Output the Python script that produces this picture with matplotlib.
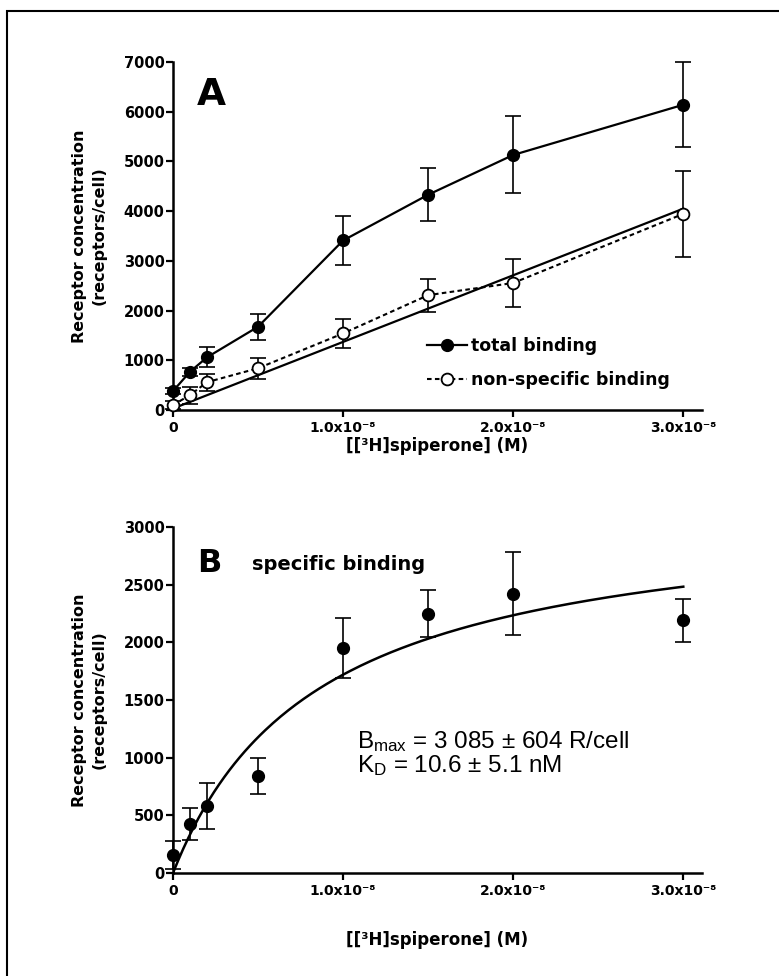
import matplotlib
matplotlib.use('Agg')
import matplotlib.pyplot as plt
import numpy as np
from matplotlib.patches import Rectangle

plt.rcParams['font.family'] = ['DejaVu Sans']
plt.rcParams['font.weight'] = 'bold'
plt.rcParams['mathtext.fontset'] = 'custom'
plt.rcParams['mathtext.rm'] = 'Liberation Sans:weight=normal'
plt.rcParams['mathtext.it'] = 'Liberation Sans:weight=normal'

# spiperone concentration (M)
conc = [0, 1e-9, 2e-9, 5e-9, 1e-8, 1.5e-8, 2e-8, 3e-8]

# panel A
total = [380, 770, 1060, 1675, 3410, 4330, 5130, 6140]
total_err = [60, 80, 200, 260, 495, 530, 775, 855]
nonspec = [100, 300, 560, 840, 1540, 2310, 2555, 3945]
nonspec_err = [80, 170, 170, 215, 300, 330, 480, 865]
nonspec_fit = [30, 1.34e11]  # intercept, slope

# panel B
specific = [155, 427, 580, 840, 1950, 2250, 2420, 2190]
specific_err = [120, 140, 200, 155, 262, 205, 360, 188]
fit_bmax = 3190
fit_kd = 8.55e-9

xticks = [0, 1e-8, 2e-8, 3e-8]
xticklabels = ['0', '1.0x10⁻⁸', '2.0x10⁻⁸', '3.0x10⁻⁸']
ylabel = 'Receptor concentration\n(receptors/cell)'
xlabel = '[[³H]spiperone] (M)'

W, H = 779, 976
fig = plt.figure(figsize=(W / 100, H / 100), dpi=100)

def box(l, r, t, b):
    return [l / W, 1 - b / H, (r - l) / W, (b - t) / H]

axA = fig.add_axes(box(173, 702, 62, 410))
axB = fig.add_axes(box(173, 702, 527, 873))

for ax, xpad in ((axA, 1.5), (axB, 24)):
    for s in ('top', 'right'):
        ax.spines[s].set_visible(False)
    for s in ('left', 'bottom'):
        ax.spines[s].set_linewidth(1.8)
    ax.tick_params(direction='out', width=1.6, length=5, pad=3)
    ax.tick_params(axis='y', labelsize=10.5, pad=1)
    ax.tick_params(axis='x', labelsize=10)
    ax.set_xlim(0, 3.11e-8)
    ax.set_xticks(xticks)
    ax.set_xticklabels(xticklabels)
    ax.set_xlabel(xlabel, fontsize=12, fontweight='bold', labelpad=xpad)
    ax.set_ylabel(ylabel, fontsize=11.5, fontweight='bold',
                  linespacing=1.4, labelpad=12)
    ax.patch.set_visible(False)

# ---- A ----
axA.set_ylim(0, 7000)
axA.set_yticks(range(0, 7001, 1000))
axA.plot([0, 3e-8], [nonspec_fit[0], nonspec_fit[0] + nonspec_fit[1] * 3e-8],
         color='black', lw=1.6, zorder=2)
axA.errorbar(conc, total, yerr=total_err, fmt='none', ecolor='black',
             elinewidth=1.2, capsize=6, capthick=1.2, zorder=2, clip_on=False)
axA.errorbar(conc, nonspec, yerr=nonspec_err, fmt='none', ecolor='black',
             elinewidth=1.2, capsize=6, capthick=1.2, zorder=2, clip_on=False)
axA.plot(conc, total, '-o', color='black', lw=1.6, ms=8.5,
         label='total binding', zorder=4, clip_on=False)
axA.plot(conc, nonspec, linestyle=(0, (2.2, 1.6)), marker='o', color='black',
         mfc='white', mec='black', mew=1.3, lw=1.5, ms=8.5,
         label='non-specific binding', zorder=4, clip_on=False)
axA.legend(loc='upper left', bbox_to_anchor=(0.48, 0.21), frameon=False,
           fontsize=12.5, handlelength=2.3, handletextpad=0.25,
           labelspacing=0.95, borderpad=0, borderaxespad=0, numpoints=1)
axA.text(0.045, 0.876, 'A', transform=axA.transAxes, fontsize=27,
         fontweight='bold', va='baseline')

# ---- B ----
axB.set_ylim(0, 3000)
axB.set_yticks(range(0, 3001, 500))
xc = np.linspace(0, 3e-8, 200)
axB.plot(xc, fit_bmax * xc / (fit_kd + xc), color='black', lw=1.8, zorder=3)
axB.errorbar(conc, specific, yerr=specific_err, fmt='none', ecolor='black',
             elinewidth=1.2, capsize=6, capthick=1.2, zorder=2, clip_on=False)
axB.plot(conc, specific, 'o', color='black', ms=8.5, zorder=4, clip_on=False)
axB.text(0.045, 0.87, 'B', transform=axB.transAxes, fontsize=23,
         fontweight='bold', va='baseline')
axB.text(0.149, 0.876, 'specific binding', transform=axB.transAxes,
         fontsize=14, fontweight='bold', va='baseline')
axB.text(0.348, 0.361, 'B$_{\\mathrm{max}}$ = 3 085 ± 604 R/cell',
         transform=axB.transAxes, fontsize=17.5, fontweight='normal',
         family='Liberation Sans', va='baseline')
axB.text(0.348, 0.292, 'K$_{\\mathrm{D}}$ = 10.6 ± 5.1 nM',
         transform=axB.transAxes, fontsize=17.5, fontweight='normal',
         family='Liberation Sans', va='baseline')

# outer frame (cut at right/bottom edge)
fig.add_artist(Rectangle((7 / W, -0.1), 1.2, (H - 11) / H + 0.1,
                         transform=fig.transFigure, fill=False,
                         lw=1.5, color='black'))

fig.savefig('out.png', dpi=100)
